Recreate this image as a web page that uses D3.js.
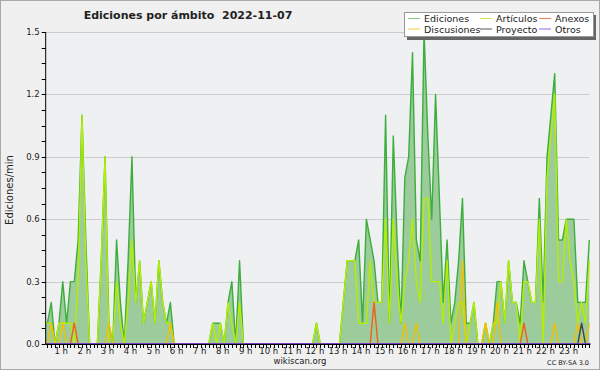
<!DOCTYPE html>
<html>
<head>
<meta charset="utf-8">
<script src="https://cdn.jsdelivr.net/npm/d3@7/dist/d3.min.js"></script>
<style>
  html, body { margin: 0; padding: 0; background: #f0f0f0; }
  svg { display: block; }
  text { font-family: "DejaVu Sans", sans-serif; fill: #222; white-space: pre; }
</style>
</head>
<body>
<div id="chart"></div>
<script>
// ediciones por minuto, muestras cada 10 min (6 por hora)
const ediciones = [
  0.1, 0.1, 0.1, 0.2, 0.0, 0.1,
  0.3, 0.1, 0.3, 0.3, 0.5, 1.1,
  0.5, 0.0, 0.0, 0.0, 0.4, 0.9,
  0.1, 0.0, 0.5, 0.2, 0.0, 0.4,
  0.9, 0.2, 0.4, 0.1, 0.2, 0.3,
  0.1, 0.4, 0.2, 0.1, 0.2, 0.0,
  0, 0, 0, 0, 0, 0,
  0, 0, 0, 0.1, 0.1, 0.1,
  0, 0.2, 0.3, 0, 0.4, 0,
  0, 0, 0, 0, 0, 0,
  0, 0, 0, 0, 0, 0,
  0, 0, 0, 0, 0, 0,
  0.1, 0, 0, 0, 0, 0,
  0, 0.2, 0.4, 0.4, 0.4, 0.5,
  0.1, 0.6, 0.5, 0.4, 0.2, 0.2,
  1.1, 0.1, 1.0, 0.5, 0.1, 0.8,
  0.9, 1.4, 0.5, 0.4, 1.5, 1.0,
  0.6, 1.2, 0.7, 0.2, 0.5, 0.1,
  0.2, 0.4, 0.7, 0.1, 0.1, 0.2,
  0, 0, 0.1, 0, 0.1, 0.3,
  0.3, 0.1, 0.4, 0.2, 0.2, 0.1,
  0.4, 0.3, 0.2, 0.2, 0.7, 0.2,
  0.9, 1.1, 1.3, 0.5, 0.5, 0.6,
  0.6, 0.6, 0.2, 0.2, 0.2, 0.5
];

const articulos = [
  0.1, 0.1, 0.1, 0.1, 0, 0.1,
  0.1, 0.1, 0.1, 0, 0.3, 1.1,
  0.4, 0, 0, 0, 0.4, 0.9,
  0, 0, 0.3, 0.1, 0, 0.2,
  0.5, 0.2, 0.4, 0.1, 0.2, 0.3,
  0.1, 0.4, 0.2, 0.1, 0.1, 0,
  0, 0, 0, 0, 0, 0,
  0, 0, 0, 0.1, 0, 0.1,
  0, 0.2, 0.1, 0, 0.2, 0,
  0, 0, 0, 0, 0, 0,
  0, 0, 0, 0, 0, 0,
  0, 0, 0, 0, 0, 0,
  0.1, 0, 0, 0, 0, 0,
  0, 0.2, 0.4, 0.4, 0.4, 0.1,
  0.1, 0.1, 0.4, 0.2, 0.2, 0.2,
  0.6, 0.1, 0.6, 0.3, 0.1, 0.3,
  0.4, 0.6, 0.3, 0.2, 0.7, 0.7,
  0.3, 0.3, 0.3, 0.1, 0.4, 0,
  0.1, 0.2, 0.2, 0, 0.1, 0.2,
  0, 0, 0.1, 0, 0.1, 0.1,
  0.3, 0.1, 0.4, 0.2, 0.2, 0,
  0.3, 0.3, 0.2, 0.2, 0.6, 0,
  0.8, 1.0, 1.2, 0.3, 0.3, 0.6,
  0.4, 0.3, 0.1, 0.2, 0.1, 0.4
];

const discusiones = [
  0, 0, 0, 0.1, 0, 0,
  0.1, 0, 0, 0, 0, 0,
  0, 0, 0, 0, 0, 0,
  0.1, 0, 0, 0, 0, 0,
  0, 0, 0, 0, 0, 0,
  0, 0, 0, 0, 0.1, 0,
  0, 0, 0, 0, 0, 0,
  0, 0, 0, 0, 0, 0,
  0, 0, 0, 0, 0, 0,
  0, 0, 0, 0, 0, 0,
  0, 0, 0, 0, 0, 0,
  0, 0, 0, 0, 0, 0,
  0, 0, 0, 0, 0, 0,
  0, 0, 0, 0, 0, 0,
  0, 0, 0, 0, 0, 0,
  0, 0, 0, 0, 0, 0.1,
  0, 0, 0.1, 0, 0, 0,
  0, 0, 0, 0, 0, 0,
  0, 0, 0.4, 0, 0, 0,
  0, 0, 0.1, 0, 0, 0.2,
  0, 0, 0, 0, 0, 0,
  0, 0, 0, 0, 0, 0,
  0, 0, 0.1, 0, 0, 0,
  0, 0, 0.1, 0, 0, 0.1
];

const anexos = [
  0, 0, 0, 0, 0, 0,
  0, 0, 0, 0.1, 0, 0,
  0, 0, 0, 0, 0, 0,
  0, 0, 0, 0, 0, 0,
  0, 0, 0, 0, 0, 0,
  0, 0, 0, 0, 0, 0,
  0, 0, 0, 0, 0, 0,
  0, 0, 0, 0, 0, 0,
  0, 0, 0, 0, 0, 0,
  0, 0, 0, 0, 0, 0,
  0, 0, 0, 0, 0, 0,
  0, 0, 0, 0, 0, 0,
  0, 0, 0, 0, 0, 0,
  0, 0, 0, 0, 0, 0,
  0, 0, 0, 0.2, 0, 0,
  0, 0, 0, 0, 0, 0,
  0, 0, 0, 0, 0, 0,
  0, 0, 0, 0, 0, 0,
  0, 0, 0, 0, 0, 0,
  0, 0, 0, 0, 0, 0,
  0, 0, 0, 0, 0, 0,
  0.1, 0, 0, 0, 0, 0,
  0, 0, 0, 0, 0, 0,
  0, 0, 0, 0, 0, 0
];

const proyecto = [
  0, 0, 0, 0, 0, 0,  0, 0, 0, 0, 0, 0,  0, 0, 0, 0, 0, 0,  0, 0, 0, 0, 0, 0,
  0, 0, 0, 0, 0, 0,  0, 0, 0, 0, 0, 0,  0, 0, 0, 0, 0, 0,  0, 0, 0, 0, 0, 0,
  0, 0, 0, 0, 0, 0,  0, 0, 0, 0, 0, 0,  0, 0, 0, 0, 0, 0,  0, 0, 0, 0, 0, 0,
  0, 0, 0, 0, 0, 0,  0, 0, 0, 0, 0, 0,  0, 0, 0, 0, 0, 0,  0, 0, 0, 0, 0, 0,
  0, 0, 0, 0, 0, 0,  0, 0, 0, 0, 0, 0,  0, 0, 0, 0, 0, 0,  0, 0, 0, 0, 0, 0,
  0, 0, 0, 0, 0, 0,  0, 0, 0, 0, 0, 0,  0, 0, 0, 0, 0, 0,  0, 0, 0, 0.1, 0, 0,
  0, 0, 0, 0, 0, 0
];

const otros = [
  0, 0, 0, 0, 0, 0,  0, 0, 0, 0, 0, 0,  0, 0, 0, 0, 0, 0,  0, 0, 0, 0, 0, 0,
  0, 0, 0, 0, 0, 0,  0, 0, 0, 0, 0, 0,  0, 0, 0, 0, 0, 0,  0, 0, 0, 0, 0, 0,
  0, 0, 0, 0, 0, 0,  0, 0, 0, 0, 0, 0,  0, 0, 0, 0, 0, 0,  0, 0, 0, 0, 0, 0,
  0, 0, 0, 0, 0, 0,  0, 0, 0, 0, 0, 0,  0, 0, 0, 0, 0, 0,  0, 0, 0, 0, 0, 0,
  0, 0, 0, 0, 0, 0,  0, 0, 0, 0, 0, 0,  0, 0, 0, 0, 0, 0,  0, 0, 0, 0, 0, 0,
  0, 0, 0, 0, 0, 0,  0, 0, 0, 0, 0, 0,  0, 0, 0, 0, 0, 0,  0, 0, 0, 0, 0, 0,
  0, 0, 0.1, 0, 0, 0
];

const horas = d3.range(1, 24);
const yTicks = [0.0, 0.3, 0.6, 0.9, 1.2, 1.5];

const series = [
  { nombre: "Ediciones", valores: ediciones, color: "#3cae3c", leyenda: "#7fcf7f" },
  { nombre: "Artículos", valores: articulos, color: "#b4ee00", leyenda: "#c4ee50" },
  { nombre: "Discusiones", valores: discusiones, color: "#f2c200", leyenda: "#f5c842" },
  { nombre: "Anexos", valores: anexos, color: "#f06018", leyenda: "#f08050" },
  { nombre: "Proyecto", valores: proyecto, color: "#444444", leyenda: "#555555" },
  { nombre: "Otros", valores: otros, color: "#7a3cf0", leyenda: "#9a5cf0" }
];

const width = 600, height = 370;
const plotLeft = 45.7, plotRight = 589.5, plotTop = 32, plotBottom = 344;

const svg = d3.select("#chart").append("svg")
  .attr("width", width)
  .attr("height", height);

svg.append("rect")
  .attr("x", 0.5).attr("y", 0.5)
  .attr("width", width - 1).attr("height", height - 1)
  .attr("fill", "#f0f0f0")
  .attr("stroke", "#a8a8a8");

svg.append("rect")
  .attr("x", plotLeft).attr("y", plotTop)
  .attr("width", plotRight - plotLeft).attr("height", plotBottom - plotTop)
  .attr("fill", "#eef0f2");

const x = d3.scaleLinear().domain([0, 143]).range([39.7, 589.3]);
const y = d3.scaleLinear().domain([0, 1.5]).range([plotBottom, plotTop]);

// rejilla
svg.selectAll("line.grid")
  .data(yTicks.filter(d => d > 0))
  .enter()
  .append("line")
  .attr("class", "grid")
  .attr("x1", plotLeft).attr("x2", plotRight)
  .attr("y1", d => Math.round(y(d)) + 0.5)
  .attr("y2", d => Math.round(y(d)) + 0.5)
  .attr("stroke", "#cccccc");

svg.append("clipPath").attr("id", "plot")
  .append("rect")
  .attr("x", plotLeft).attr("y", 0)
  .attr("width", plotRight - plotLeft + 1).attr("height", plotBottom + 1);

const g = svg.append("g").attr("clip-path", "url(#plot)");

const area = d3.area()
  .x((d, i) => x(i))
  .y0(y(0))
  .y1(d => y(d));

const line = d3.line()
  .x((d, i) => x(i))
  .y(d => y(d));

g.append("path")
  .attr("d", area(ediciones))
  .attr("fill", "#9ccb9c");

series.forEach(s => {
  g.append("path")
    .attr("d", line(s.valores))
    .attr("fill", "none")
    .attr("stroke", s.color)
    .attr("stroke-width", 1.4)
    .attr("stroke-linejoin", "round");
});

// ejes
svg.append("line")
  .attr("x1", plotLeft).attr("x2", plotLeft)
  .attr("y1", plotTop).attr("y2", plotBottom)
  .attr("stroke", "#000");
svg.append("line")
  .attr("x1", plotLeft).attr("x2", plotRight)
  .attr("y1", plotBottom + 0.5).attr("y2", plotBottom + 0.5)
  .attr("stroke", "#000");

svg.selectAll("line.ytick")
  .data(d3.range(0, 21).map(k => k * 0.075))
  .enter()
  .append("line")
  .attr("class", "ytick")
  .attr("x1", plotLeft - 4).attr("x2", plotLeft)
  .attr("y1", d => Math.round(y(d)) + 0.5)
  .attr("y2", d => Math.round(y(d)) + 0.5)
  .attr("stroke", "#000");

svg.selectAll("text.ylab")
  .data(yTicks)
  .enter()
  .append("text")
  .attr("class", "ylab")
  .attr("x", plotLeft - 6)
  .attr("y", d => y(d) + 3)
  .attr("text-anchor", "end")
  .attr("font-size", 8.5)
  .text(d => d.toFixed(1));

svg.selectAll("line.xtick")
  .data(d3.range(144).filter(i => x(i) >= plotLeft))
  .enter()
  .append("line")
  .attr("class", "xtick")
  .attr("x1", d => Math.round(x(d)) + 0.5)
  .attr("x2", d => Math.round(x(d)) + 0.5)
  .attr("y1", plotBottom).attr("y2", plotBottom + 4)
  .attr("stroke", "#000");

svg.selectAll("text.xlab")
  .data(horas)
  .enter()
  .append("text")
  .attr("class", "xlab")
  .attr("x", d => x(d * 6) - 1.5)
  .attr("y", 353.5)
  .attr("text-anchor", "middle")
  .attr("font-size", 8.5)
  .text(d => d + " h");

// títulos
svg.append("text")
  .attr("x", 188).attr("y", 18.5)
  .attr("text-anchor", "middle")
  .attr("font-size", 11)
  .attr("font-weight", "bold")
  .text("Ediciones por ámbito  2022-11-07");

svg.append("text")
  .attr("transform", "translate(13,190) rotate(-90)")
  .attr("text-anchor", "middle")
  .attr("font-size", 10)
  .text("Ediciones/min");

svg.append("text")
  .attr("x", 300).attr("y", 364)
  .attr("text-anchor", "middle")
  .attr("font-size", 8.5)
  .text("wikiscan.org");

svg.append("text")
  .attr("x", 589).attr("y", 364.5)
  .attr("text-anchor", "end")
  .attr("font-size", 6.5)
  .text("CC BY-SA 3.0");

// leyenda
const leg = svg.append("g");
leg.append("rect")
  .attr("x", 407).attr("y", 15)
  .attr("width", 189).attr("height", 25)
  .attr("fill", "#666");
leg.append("rect")
  .attr("x", 404.5).attr("y", 12.5)
  .attr("width", 189).attr("height", 24)
  .attr("fill", "#fff")
  .attr("stroke", "#999");

const legPos = [
  { s: 0, cx: 408, fila: 0 }, { s: 1, cx: 480, fila: 0 }, { s: 3, cx: 539, fila: 0 },
  { s: 2, cx: 408, fila: 1 }, { s: 4, cx: 480, fila: 1 }, { s: 5, cx: 539, fila: 1 }
];
legPos.forEach(p => {
  const s = series[p.s];
  const ly = 18.5 + p.fila * 10.5;
  leg.append("line")
    .attr("x1", p.cx).attr("x2", p.cx + 12)
    .attr("y1", ly).attr("y2", ly)
    .attr("stroke", s.leyenda)
    .attr("stroke-width", 1);
  leg.append("text")
    .attr("x", p.cx + 16).attr("y", ly + 3.5)
    .attr("font-size", 9.5)
    .text(s.nombre);
});
</script>
</body>
</html>
